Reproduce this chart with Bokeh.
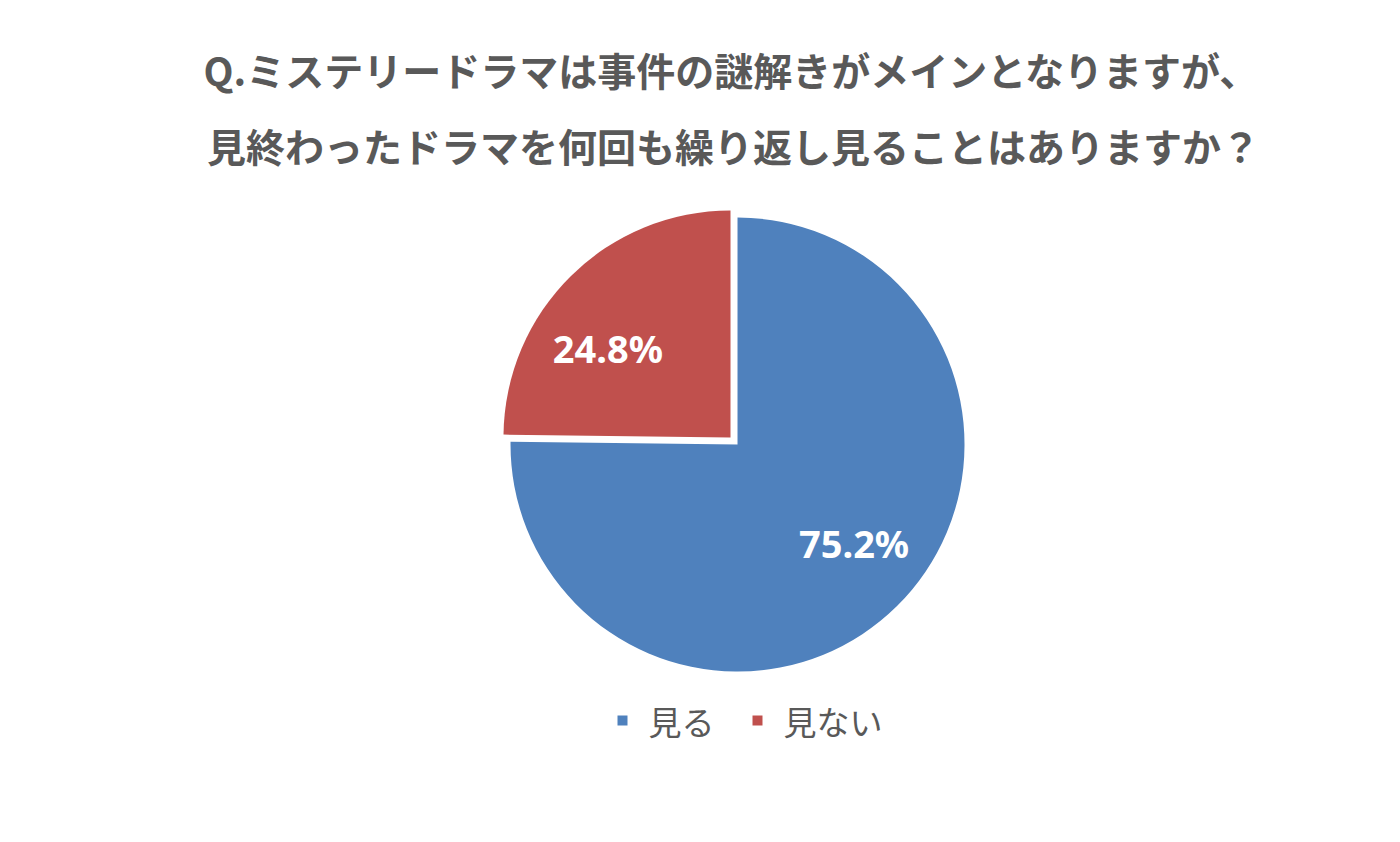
import math
from bokeh.plotting import figure
from bokeh.models import Range1d
from bokeh.core.properties import value
from bokeh.embed import file_html
from bokeh.resources import INLINE

# ---- data ----
title_lines = ["Q.ミステリードラマは事件の謎解きがメインとなりますが、",
               "見終わったドラマを何回も繰り返し見ることはありますか？"]
categories = ["見る", "見ない"]
percent = [75.2, 24.8]
colors = ["#4F81BD", "#C0504D"]

# ---- layout (pixel space) ----
W, H = 1384, 826
p = figure(width=W, height=H, output_backend="svg", toolbar_location=None,
           x_range=Range1d(0, W), y_range=Range1d(0, H), min_border=0)
p.axis.visible = False
p.grid.visible = False
p.outline_line_color = None
p.background_fill_color = "white"
p.border_fill_color = "white"

def sx(x):
    return x
def sy(y):
    return H - y

cx, cy = sx(733.5), sy(440.5)
R = 227
explode = 5

# slices clockwise from 12 o'clock
start = 90.0
xs, ys, sa, ea, lx, ly = [], [], [], [], [], []
label_nudge = [(10, 9), (-16, -18)]
for i, v in enumerate(percent):
    a0 = start
    a1 = start - 360.0 * v / 100.0
    mid = math.radians((a0 + a1) / 2)
    xs.append(cx + explode * math.cos(mid))
    ys.append(cy + explode * math.sin(mid))
    sa.append(math.radians(a1))
    ea.append(math.radians(a0))
    rr = 0.69 * R
    lx.append(cx + rr * math.cos(mid) + label_nudge[i][0])
    ly.append(cy + rr * math.sin(mid) + label_nudge[i][1])
    start = a1

p.wedge(x=xs, y=ys, radius=R, start_angle=sa, end_angle=ea,
        fill_color=colors, line_color=None)

p.text(x=lx, y=ly, text=[f"{v:.1f}%" for v in percent],
       text_font=value("Noto Sans"), text_font_style="bold",
       text_font_size="38px", text_color="white",
       text_align="center", text_baseline="middle")

# title
p.text(x=[sx(731), sx(733)], y=[sy(68), sy(144)], text=title_lines,
       text_font=value("Noto Sans CJK JP"), text_font_style="bold",
       text_font_size="39px", text_color="#595959",
       text_align="center", text_baseline="middle")

# legend
leg_sq_x = [sx(622), sx(757)]
leg_y = sy(720)
p.rect(x=leg_sq_x, y=[leg_y] * 2, width=10, height=10,
       fill_color=colors, line_color=None)
p.text(x=[x + 26 for x in leg_sq_x], y=[leg_y] * 2, text=categories,
       text_font=value("Noto Sans CJK JP"), text_font_size="33px",
       text_color="#595959", text_align="left", text_baseline="middle")

open("out.html", "w").write(file_html(p, INLINE))
